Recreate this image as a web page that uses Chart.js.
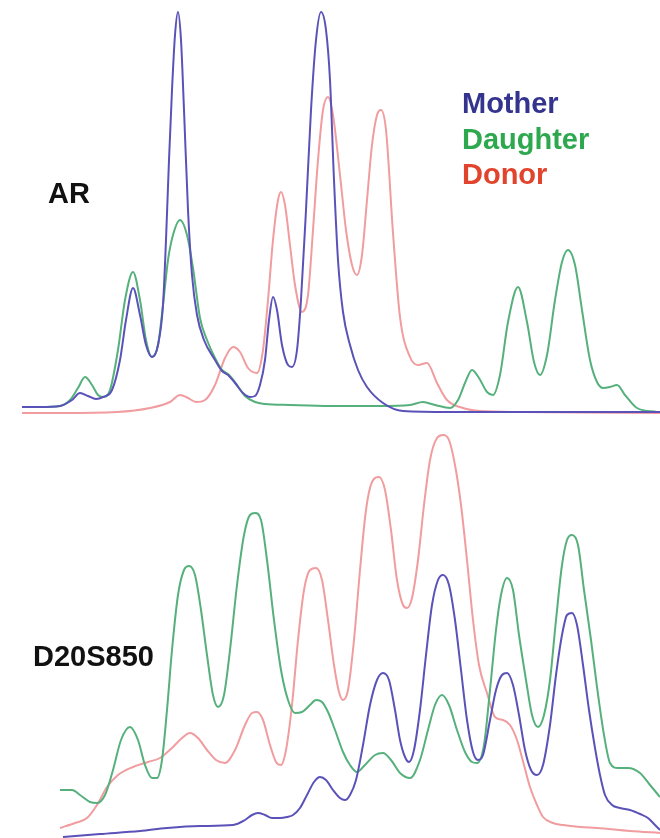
<!DOCTYPE html>
<html>
<head>
<meta charset="utf-8">
<script src="https://cdn.jsdelivr.net/npm/chart.js@4/dist/chart.umd.min.js"></script>
<style>
  html, body { margin: 0; padding: 0; background: #ffffff; }
  #page { position: relative; width: 660px; height: 838px; overflow: hidden; background: #ffffff; }
  .panel { position: absolute; left: 0; width: 660px; }
  #arPanel { top: 0; height: 420px; }
  #d20Panel { top: 420px; height: 418px; }
  canvas { display: block; }
  .label {
    position: absolute; margin: 0;
    font-family: "Liberation Sans", Arial, Helvetica, sans-serif;
    font-weight: bold; white-space: nowrap; line-height: 1;
  }
  .locus { color: #111111; font-size: 29px; }
  .key { font-size: 29px; left: 462px; }
</style>
</head>
<body>
<div id="page">
  <div class="panel" id="arPanel"><canvas id="arChart" width="660" height="420"></canvas></div>
  <div class="panel" id="d20Panel"><canvas id="d20Chart" width="660" height="418"></canvas></div>

  <div class="label locus" style="left:48px; top:179px;">AR</div>
  <div class="label locus" style="left:33px; top:642px;">D20S850</div>

  <div class="label key" style="top:89px; color:#34348f;">Mother</div>
  <div class="label key" style="top:125px; color:#2ea84e;">Daughter</div>
  <div class="label key" style="top:160px; color:#e2432c;">Donor</div>
</div>

<script>
// ---- AR locus: scan position and signal height ----
const arMotherScan = [22,40,60,72,80,88,96,103,112,120,126,133,140,146,152,158,163,166,169,172,
  175,178,181,184,188,192,197,204,215,222,228,235,243,250,255,260,265,269,273,277,
  282,288,292,297,301,306,311,316,321,326,330,334,338,343,350,358,367,383,403,450,660];
const arMother = [13,13,14,20,27,24,21,23,30,60,100,132,105,75,63,75,115,180,260,330,
  385,408,380,310,210,145,105,80,60,49,45,37,27,23,24,35,60,100,123,110,
  75,55,53,70,120,210,310,380,408,390,340,240,160,108,75,50,33,17,9,8,8];

const arDaughterScan = [22,40,60,70,78,85,92,98,103,110,118,125,133,140,146,152,158,163,168,173,
  180,187,193,200,207,215,222,228,235,245,255,265,290,330,380,410,423,435,450,458,
  465,472,479,487,493,500,508,518,527,534,540,547,555,562,568,575,582,590,597,603,
  610,617,625,637,657];
const arDaughter = [13,13,14,20,32,43,35,25,23,30,70,120,148,120,80,63,75,115,160,185,
  200,185,152,102,80,62,50,46,38,24,18,16,15,14,14,15,18,15,12,20,
  37,50,42,28,25,45,98,133,98,58,45,65,120,158,170,155,110,60,38,32,
  33,35,25,12,8];

const arDonorScan = [22,60,117,150,170,180,188,196,205,215,225,233,240,248,257,263,268,273,278,281,
  285,290,295,302,308,313,318,323,328,333,340,346,352,357,362,367,372,377,381,386,
  393,400,410,418,427,437,447,463,480,520,660];
const arDonor = [7,7,8,12,18,25,22,18,20,35,62,73,68,52,47,70,120,180,220,228,
  215,175,135,108,125,190,260,310,323,305,245,190,155,145,165,220,275,305,310,290,
  187,103,63,55,57,37,20,12,9,8,7];

// ---- D20S850 locus: scan position and signal height ----
const d20MotherScan = [63,100,140,167,200,233,245,252,258,265,272,280,287,293,300,307,314,320,326,333,
  340,345,350,356,363,370,377,383,389,395,400,405,409,414,420,426,432,438,443,449,
  455,461,467,473,478,483,490,496,502,507,513,519,525,531,537,543,550,556,562,567,
  572,577,583,589,595,600,605,612,620,630,640,648,655,660];
const d20Mother = [1,4,7,10,12,13,18,23,25,23,20,20,21,23,30,43,56,61,58,48,
  40,38,43,58,93,133,158,165,158,128,98,81,76,88,128,183,233,258,263,253,
  218,168,118,86,78,83,118,148,163,165,153,123,88,68,63,73,113,163,203,223,
  225,213,173,128,90,63,43,33,30,28,24,20,13,8];

const d20DaughterScan = [60,72,80,90,97,105,113,121,130,138,145,152,157,162,167,172,178,184,189,195,
  201,207,213,218,224,230,237,244,250,255,261,267,274,281,288,295,302,310,316,322,
  328,335,343,350,357,365,375,383,391,400,410,420,428,435,442,449,457,465,472,477,
  484,490,496,501,507,513,519,526,532,538,544,550,556,562,567,572,578,584,591,597,
  604,610,618,628,640,650,660];
const d20Daughter = [48,48,43,36,35,43,68,98,111,98,73,60,60,78,128,188,243,268,272,263,
  228,183,143,131,143,188,253,303,323,325,318,278,218,168,138,125,126,133,138,136,
  126,108,86,73,66,73,83,85,78,65,60,78,108,133,143,133,108,86,76,75,
  93,148,208,243,260,248,203,158,123,111,123,158,218,273,298,303,293,248,198,151,
  103,75,70,70,65,53,41];

const d20DonorScan = [60,75,87,97,107,118,133,148,160,172,182,190,198,207,216,225,235,245,252,257,
  263,270,276,281,286,292,298,304,310,316,322,328,334,339,343,348,354,360,366,372,
  379,385,391,397,403,407,412,418,424,430,437,443,449,455,461,467,473,479,487,495,
  503,510,517,524,530,537,543,553,563,580,597,630,660];
const d20Donor = [10,15,20,33,51,63,71,76,80,90,100,105,100,88,78,75,88,113,125,126,
  118,93,76,73,88,133,198,248,268,270,258,218,173,146,138,148,198,268,328,356,
  361,348,308,258,233,230,240,278,333,378,400,403,398,373,333,278,218,173,145,121,
  118,113,98,73,51,33,21,15,13,11,10,7,5];

const seriesNames = ['Mother', 'Daughter', 'Donor'];
const traceColors = ['#5a52b8', '#55b07c', '#f19c9f'];

function pairs(scan, values) {
  return scan.map((s, i) => ({ x: s, y: values[i] }));
}

function traceChart(canvasId, traces, yMax) {
  return new Chart(document.getElementById(canvasId), {
    type: 'line',
    data: {
      datasets: traces.map((t, i) => ({
        label: seriesNames[i],
        data: pairs(t[0], t[1]),
        borderColor: traceColors[i],
        borderWidth: 2,
        pointRadius: 0,
        fill: false,
        cubicInterpolationMode: 'monotone',
        clip: false
      }))
    },
    options: {
      responsive: false,
      animation: false,
      devicePixelRatio: 1,
      events: [],
      layout: { padding: 0 },
      scales: {
        x: { type: 'linear', display: false, min: 0, max: 660 },
        y: { display: false, min: 0, max: yMax }
      },
      plugins: { legend: { display: false }, tooltip: { enabled: false } }
    }
  });
}

traceChart('arChart', [
  [arMotherScan, arMother],
  [arDaughterScan, arDaughter],
  [arDonorScan, arDonor]
], 420);

traceChart('d20Chart', [
  [d20MotherScan, d20Mother],
  [d20DaughterScan, d20Daughter],
  [d20DonorScan, d20Donor]
], 418);
</script>
</body>
</html>
